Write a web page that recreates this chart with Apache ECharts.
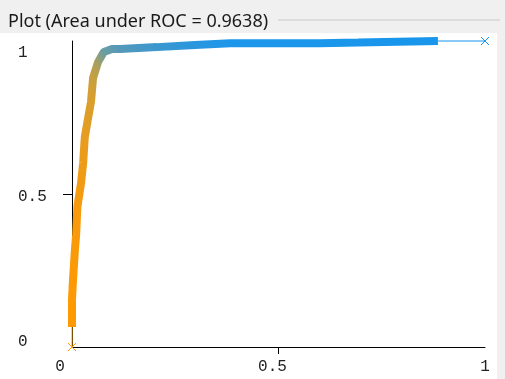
<!DOCTYPE html>
<html>
<head>
<meta charset="utf-8">
<script src="https://cdn.jsdelivr.net/npm/echarts@6/dist/echarts.min.js"></script>
<style>
html,body{margin:0;padding:0;background:#f0f0f0;}
#roc_chart{width:505px;height:379px;}
</style>
</head>
<body>
<div id="roc_chart"></div>
<script>
// ROC points (false positive rate, true positive rate)
var fpr = [0, 0, 0.002, 0.007, 0.010, 0.013, 0.022, 0.027, 0.031, 0.036, 0.046,
           0.051, 0.063, 0.077, 0.097, 0.116, 0.206, 0.298, 0.383, 0.600, 0.692, 0.886];
var tpr = [0.065, 0.154, 0.209, 0.317, 0.366, 0.458, 0.536, 0.601, 0.686, 0.725, 0.801,
           0.879, 0.931, 0.964, 0.974, 0.974, 0.980, 0.987, 0.993, 0.993, 0.995, 1.0];
var startPoint = [0, 0];
var endPoint = [1, 1];
var axisTicks = [0, 0.5, 1];
var titleText = "Plot (Area under ROC = 0.9638)";

var curve = fpr.map(function (x, i) { return [x, tpr[i]]; });
var headSeg = [startPoint, curve[0]];
var tailSeg = [curve[curve.length - 1], endPoint];

var crossSymbol = "path://M0,0L10,10M10,0L0,10";
var monoFont = "'Liberation Mono', 'DejaVu Sans Mono', monospace";

var roc_chart = echarts.init(document.getElementById("roc_chart"));

var bandColor = new echarts.graphic.LinearGradient(0, 1, 1, 0, [
    {offset: 0, color: "#FF9900"},
    {offset: 0.17, color: "#F89A0C"},
    {offset: 0.27, color: "#E89C1E"},
    {offset: 0.34, color: "#D89F2E"},
    {offset: 0.37, color: "#C8A040"},
    {offset: 0.395, color: "#A8A05C"},
    {offset: 0.42, color: "#6C9EA0"},
    {offset: 0.45, color: "#5599B8"},
    {offset: 0.52, color: "#3A97D0"},
    {offset: 0.60, color: "#2596E2"},
    {offset: 0.65, color: "#1C96EA"},
    {offset: 1, color: "#1896EC"}
]);

option = {
    backgroundColor: "#f0f0f0",
    animation: false,
    title: {
        text: titleText,
        left: 3,
        top: 8,
        textStyle: {
            fontFamily: "'Noto Sans', 'Open Sans', sans-serif",
            fontWeight: "normal",
            fontSize: 18,
            color: "#1a1a1a"
        }
    },
    graphic: [
        {
            type: "rect",
            z: -10,
            shape: {x: 0, y: 33, width: 497, height: 346},
            style: {fill: "#ffffff"}
        },
        {
            type: "line",
            z: -10,
            shape: {x1: 278, y1: 20, x2: 500, y2: 20},
            style: {stroke: "#c8c8c8", lineWidth: 1}
        }
    ],
    grid: {
        left: 72,
        right: 20,
        top: 41,
        bottom: 32
    },
    xAxis: {
        type: "value",
        min: 0,
        max: 1,
        interval: 0.5,
        axisLine: {lineStyle: {color: "#000", width: 1}},
        axisTick: {show: true, customValues: [0.5], length: 7, lineStyle: {color: "#000"}},
        splitLine: {show: false},
        axisLabel: {
            customValues: axisTicks,
            margin: 12,
            formatter: function (v) {
                if (v === 0) return "{z|0}";
                if (v === 1) return "{n|1}";
                return "{h|0.5}";
            },
            rich: {
                z: {fontFamily: monoFont, fontSize: 16, color: "#222", padding: [0, 24, 0, 0]},
                h: {fontFamily: monoFont, fontSize: 16, color: "#222", padding: [0, 12, 0, 0]},
                n: {fontFamily: monoFont, fontSize: 16, color: "#222"}
            }
        }
    },
    yAxis: {
        type: "value",
        min: 0,
        max: 1,
        interval: 0.5,
        axisLine: {lineStyle: {color: "#000", width: 1}},
        axisTick: {show: true, customValues: [0.5], length: 9, lineStyle: {color: "#000"}},
        splitLine: {show: false},
        axisLabel: {
            customValues: axisTicks,
            margin: 54,
            align: "left",
            formatter: function (v) {
                if (v === 0) return "{z|0}";
                if (v === 1) return "{n|1}";
                return "{h|0.5}";
            },
            rich: {
                z: {fontFamily: monoFont, fontSize: 16, color: "#222", padding: [0, 0, 10, 0]},
                h: {fontFamily: monoFont, fontSize: 16, color: "#222", padding: [6, 0, 0, 0]},
                n: {fontFamily: monoFont, fontSize: 16, color: "#222", padding: [24, 0, 0, 0]}
            }
        }
    },
    series: [
        {
            type: "line",
            clip: false,
            data: headSeg,
            symbol: function (val, params) { return params.dataIndex === 0 ? crossSymbol : "none"; },
            symbolSize: 8,
            showAllSymbol: true,
            itemStyle: {color: "transparent", borderColor: "#FF9900", borderWidth: 1},
            lineStyle: {color: "#FF9900", width: 1},
            z: 3
        },
        {
            type: "line",
            clip: false,
            data: tailSeg,
            symbol: function (val, params) { return params.dataIndex === 1 ? crossSymbol : "none"; },
            symbolSize: 8,
            showAllSymbol: true,
            itemStyle: {color: "transparent", borderColor: "#1896EC", borderWidth: 1},
            lineStyle: {color: "#1896EC", width: 1},
            z: 3
        },
        {
            type: "line",
            clip: false,
            data: curve,
            symbol: "none",
            lineStyle: {color: bandColor, width: 8},
            z: 4
        }
    ]
};
roc_chart.setOption(option);
</script>
</body>
</html>
